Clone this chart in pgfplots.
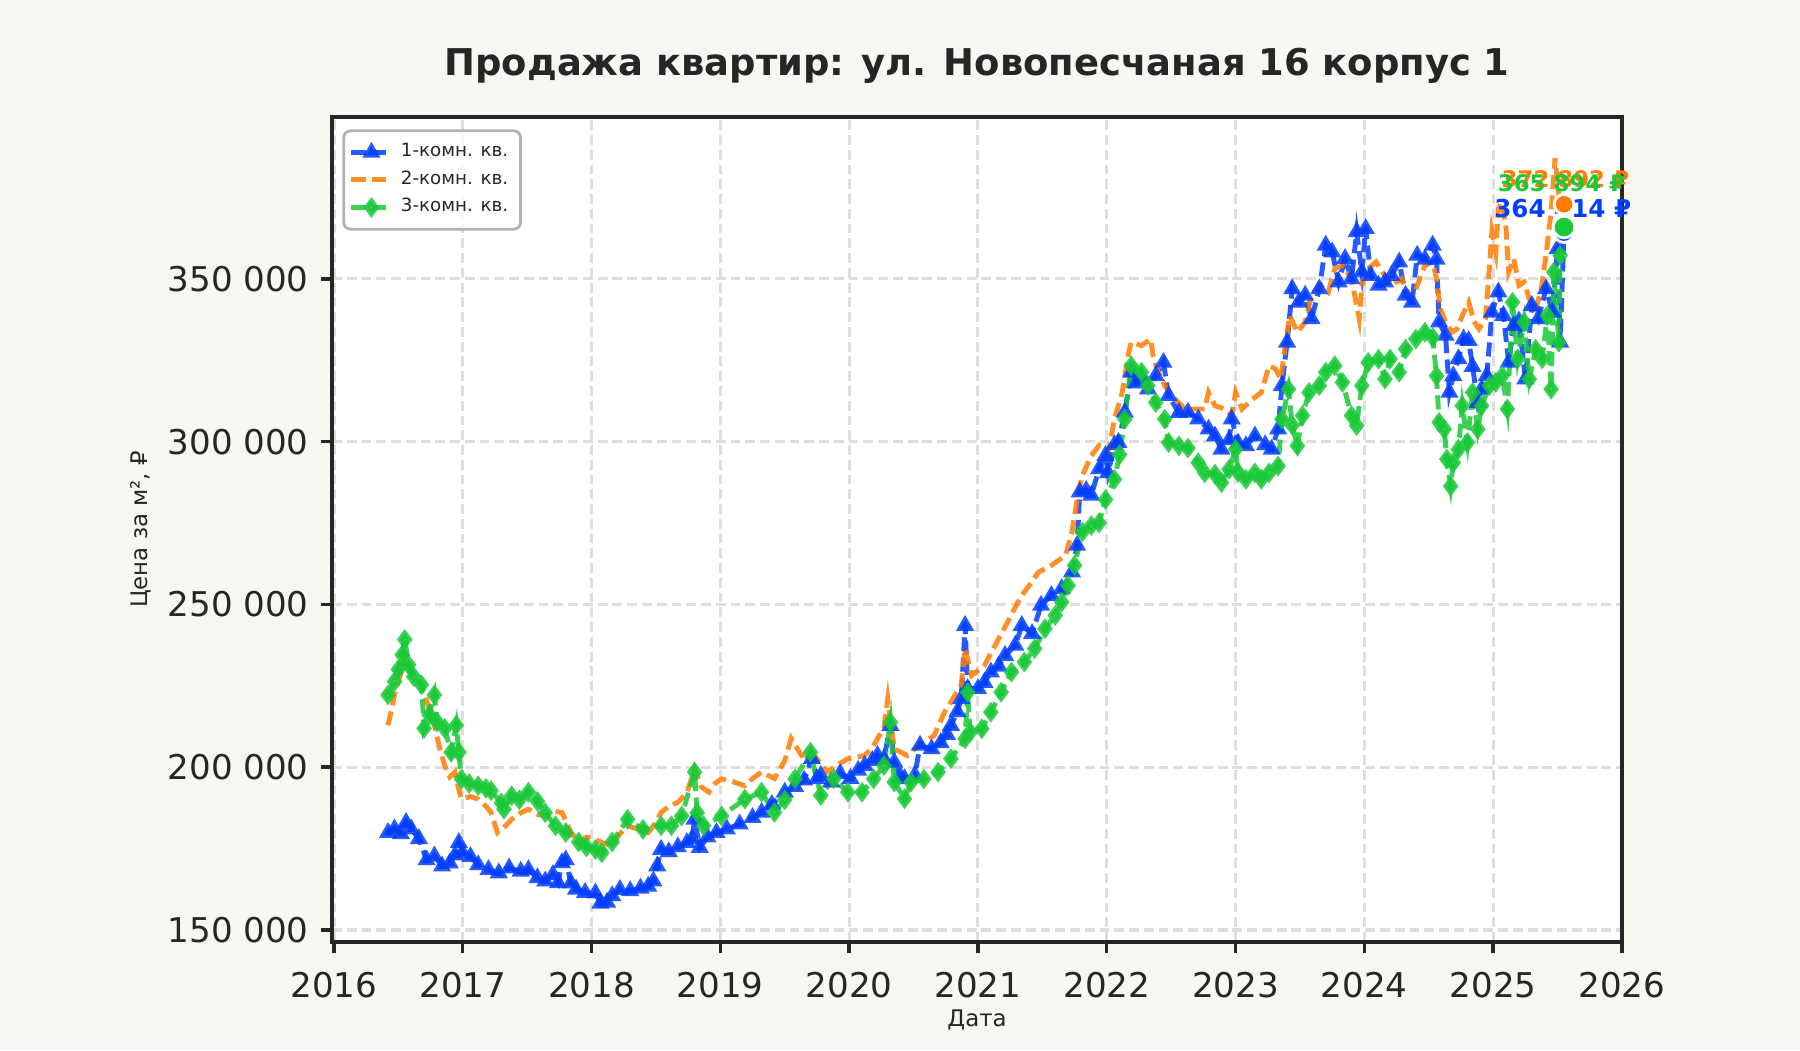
\documentclass[border=0pt]{standalone}
\usepackage{fontspec}
\setmainfont{DejaVu Sans}
\usepackage{pgfplots}
\pgfplotsset{compat=1.18}
\usepackage{pgfplotstable}

\definecolor{bg}{HTML}{F7F6F1}
\definecolor{ink}{HTML}{262626}
\definecolor{c1}{HTML}{023EFF}
\definecolor{c2}{HTML}{FF7C00}
\definecolor{c3}{HTML}{1AC938}

% 1-room
\pgfplotstableread{
x y
2016.42 179900
2016.47 181000
2016.52 179500
2016.56 183000
2016.60 181000
2016.66 178000
2016.72 171500
2016.78 172700
2016.84 169600
2016.90 170500
2016.94 173000
2016.97 176800
2017.00 173700
2017.06 172500
2017.12 170000
2017.20 168500
2017.28 167500
2017.36 169000
2017.45 168000
2017.51 168500
2017.58 166000
2017.64 165000
2017.70 167000
2017.74 164500
2017.77 170600
2017.80 171500
2017.84 164400
2017.88 162500
2017.95 161500
2018.03 161300
2018.07 158200
2018.12 158500
2018.16 160500
2018.22 162400
2018.30 162000
2018.38 162800
2018.44 163400
2018.48 165000
2018.51 169600
2018.54 174700
2018.60 174000
2018.67 175500
2018.74 176800
2018.78 178000
2018.80 184000
2018.84 175300
2018.90 178500
2018.97 179900
2019.05 181000
2019.15 182500
2019.25 184500
2019.32 186100
2019.40 188500
2019.50 192300
2019.58 194000
2019.65 196000
2019.71 202600
2019.75 196400
2019.78 197400
2019.86 195400
2019.93 198000
2020.01 196500
2020.07 199000
2020.12 200500
2020.18 202000
2020.22 203600
2020.27 202500
2020.32 212800
2020.35 201500
2020.40 197000
2020.43 196400
2020.51 197500
2020.55 206700
2020.64 205600
2020.71 207500
2020.76 210000
2020.79 212800
2020.84 217000
2020.87 221000
2020.90 243500
2020.92 224100
2021.00 224100
2021.05 226000
2021.10 229200
2021.16 231000
2021.21 234300
2021.29 237400
2021.34 243500
2021.42 241000
2021.49 249700
2021.57 252700
2021.65 254800
2021.73 259900
2021.77 268100
2021.79 284500
2021.84 285000
2021.88 283500
2021.94 291600
2021.99 295700
2022.01 290400
2022.06 299000
2022.09 299700
2022.14 309000
2022.19 321300
2022.23 318000
2022.27 320000
2022.32 316100
2022.38 320200
2022.44 324300
2022.48 314100
2022.56 308900
2022.63 309000
2022.71 306900
2022.79 303800
2022.84 301700
2022.89 297600
2022.95 300500
2022.97 306900
2023.02 299500
2023.08 298700
2023.15 301700
2023.23 299000
2023.28 297600
2023.33 303800
2023.36 317200
2023.40 330500
2023.44 346900
2023.49 342800
2023.54 344900
2023.59 337700
2023.65 346900
2023.70 360300
2023.75 358200
2023.80 349000
2023.85 356200
2023.90 350000
2023.94 364400
2023.98 352100
2024.01 365400
2024.05 351000
2024.11 348000
2024.16 349000
2024.21 351000
2024.27 355100
2024.32 344900
2024.37 342800
2024.41 357200
2024.47 356000
2024.53 360300
2024.56 356000
2024.58 336700
2024.63 332600
2024.66 315100
2024.69 320200
2024.73 325400
2024.77 331500
2024.81 331000
2024.84 323000
2024.88 312000
2024.91 316100
2024.95 320200
2024.99 339700
2025.04 345900
2025.08 338700
2025.12 324300
2025.16 335600
2025.20 337000
2025.25 319200
2025.30 341800
2025.35 337700
2025.41 346900
2025.46 339700
2025.50 359300
2025.52 330500
2025.55 364414
}\one

% 2-room
\pgfplotstableread{
x y
2016.42 212900
2016.45 218000
2016.47 222200
2016.52 229000
2016.55 234500
2016.58 231000
2016.60 227300
2016.68 225300
2016.74 218000
2016.78 212900
2016.82 206000
2016.86 200500
2016.90 197000
2016.94 198500
2016.97 193000
2016.99 190200
2017.06 191000
2017.12 190200
2017.18 188000
2017.22 186100
2017.27 179900
2017.32 181500
2017.38 184000
2017.45 186000
2017.51 187100
2017.58 185500
2017.64 185000
2017.70 186500
2017.77 186100
2017.84 180000
2017.90 176800
2017.96 178500
2018.03 177800
2018.10 176500
2018.16 176000
2018.22 179500
2018.28 182000
2018.36 181000
2018.44 179900
2018.50 183000
2018.54 186100
2018.60 188000
2018.67 189200
2018.74 192000
2018.80 199500
2018.85 194000
2018.91 192300
2018.96 195000
2019.01 196400
2019.10 195500
2019.19 194300
2019.25 196500
2019.32 198500
2019.42 196500
2019.50 202000
2019.55 208800
2019.63 203600
2019.71 204600
2019.78 201000
2019.83 198500
2019.90 200500
2019.99 202600
2020.05 203000
2020.12 203600
2020.18 206000
2020.22 208700
2020.27 212000
2020.30 221000
2020.35 205600
2020.45 203600
2020.52 206000
2020.58 207700
2020.66 209700
2020.74 216900
2020.82 222000
2020.87 225100
2020.90 236400
2020.95 228200
2021.05 231200
2021.10 235000
2021.16 239400
2021.23 244500
2021.31 250700
2021.36 253800
2021.42 257000
2021.47 259900
2021.57 262000
2021.68 265000
2021.73 272200
2021.78 284500
2021.81 289600
2021.88 295700
2021.94 298800
2022.01 296600
2022.06 306900
2022.12 315100
2022.17 327400
2022.19 330500
2022.27 329500
2022.34 331500
2022.36 326400
2022.39 322300
2022.45 317200
2022.53 313000
2022.61 310000
2022.69 310000
2022.76 310000
2022.79 315100
2022.84 311000
2022.92 310000
2022.97 307900
2023.00 315100
2023.05 310000
2023.13 313000
2023.20 315100
2023.26 323300
2023.31 322300
2023.35 319200
2023.39 330500
2023.42 338700
2023.48 333600
2023.54 336700
2023.59 344900
2023.65 348000
2023.72 345900
2023.77 353100
2023.83 354100
2023.90 350000
2023.96 337700
2023.98 348000
2024.03 353100
2024.09 355200
2024.14 352100
2024.21 348000
2024.29 350000
2024.32 347000
2024.37 343900
2024.42 349000
2024.47 354100
2024.53 355200
2024.56 350000
2024.59 340800
2024.63 336700
2024.68 333600
2024.72 334600
2024.76 338700
2024.81 342800
2024.85 337000
2024.89 334600
2024.94 337700
2024.97 353100
2024.99 364400
2025.02 358200
2025.04 371600
2025.07 373600
2025.10 365400
2025.12 352100
2025.16 356200
2025.20 348000
2025.24 349000
2025.28 343900
2025.33 340800
2025.37 346000
2025.41 357200
2025.45 370600
2025.48 387000
2025.51 375700
2025.55 372892
}\two

% 3-room
\pgfplotstableread{
x y
2016.42 222200
2016.47 226300
2016.50 230000
2016.53 234500
2016.55 239200
2016.58 231400
2016.62 227800
2016.68 225300
2016.70 211900
2016.74 216000
2016.78 222200
2016.80 213900
2016.86 211900
2016.91 204600
2016.95 212900
2016.97 204600
2016.99 196400
2017.05 195000
2017.12 194300
2017.18 193500
2017.22 192800
2017.30 189000
2017.32 187100
2017.38 191200
2017.44 190000
2017.51 192300
2017.58 189500
2017.64 186000
2017.72 182000
2017.80 179900
2017.90 177000
2017.96 175500
2018.03 174700
2018.08 173700
2018.16 177000
2018.28 184000
2018.40 180900
2018.54 182000
2018.62 182000
2018.70 185000
2018.80 198500
2018.82 186000
2018.87 182000
2019.01 185000
2019.19 190200
2019.32 192300
2019.42 186100
2019.50 190000
2019.58 196400
2019.70 204600
2019.78 191300
2019.88 196400
2019.99 192300
2020.10 192300
2020.19 196400
2020.27 200500
2020.32 213800
2020.35 195400
2020.43 190300
2020.48 195400
2020.58 196400
2020.69 198500
2020.79 202600
2020.90 208700
2020.92 223000
2020.94 210800
2021.03 211800
2021.10 216900
2021.18 223000
2021.26 229200
2021.36 232300
2021.44 236400
2021.52 242500
2021.60 246600
2021.65 250700
2021.70 255800
2021.75 262000
2021.81 272200
2021.88 274200
2021.94 275000
2021.99 282200
2022.06 288400
2022.10 296000
2022.14 306900
2022.19 323300
2022.27 321300
2022.32 317200
2022.38 312000
2022.45 306900
2022.48 299700
2022.56 298700
2022.63 298000
2022.71 293500
2022.76 290400
2022.84 290000
2022.89 287400
2022.95 291500
2023.00 297600
2023.02 290500
2023.08 288400
2023.15 290400
2023.20 288400
2023.26 290400
2023.33 292500
2023.36 306900
2023.41 316100
2023.44 305000
2023.48 298700
2023.52 308000
2023.57 315100
2023.65 317200
2023.70 321300
2023.77 323300
2023.83 318200
2023.90 308000
2023.94 304900
2023.98 317200
2024.03 324300
2024.11 325300
2024.16 319200
2024.20 325400
2024.27 321300
2024.32 328400
2024.40 331500
2024.47 333600
2024.53 332000
2024.56 320200
2024.58 305900
2024.62 303800
2024.64 294600
2024.67 286300
2024.69 293500
2024.73 297600
2024.76 311000
2024.80 299700
2024.84 315100
2024.88 303800
2024.91 311000
2024.97 317200
2025.02 318200
2025.07 320200
2025.11 310000
2025.15 342800
2025.19 325400
2025.24 336700
2025.28 319200
2025.33 328400
2025.38 325400
2025.42 338700
2025.45 316100
2025.47 352100
2025.51 330500
2025.52 357200
2025.55 365894
}\three

\begin{document}
\begin{tikzpicture}
\fill[bg] (0,0) rectangle (18cm,10.5cm);
\begin{axis}[
    at={(3.32cm,1.08cm)}, anchor=south west,
    scale only axis,
    width=12.9cm, height=8.25cm,
    xmin=2015.985, xmax=2026.0,
    ymin=146300, ymax=399700,
    clip=false,
    scaled y ticks=false, scaled x ticks=false,
    axis background/.style={fill=white},
    axis line style={ink, line width=1.2pt},
    xtick={2016,2017,...,2026},
    xticklabels={2016,2017,2018,2019,2020,2021,2022,2023,2024,2025,2026},
    ytick={150000,200000,250000,300000,350000},
    yticklabels={150 000,200 000,250 000,300 000,350 000},
    xtick pos=lower, ytick pos=left,
    tick align=outside,
    major tick length=0.11cm,
    tick style={ink, line width=1pt},
    tick label style={font=\fontsize{9.7}{11}\selectfont, text=ink},
    xticklabel style={yshift=-0.07cm},
    grid=major,
    grid style={black!13, line width=0.9pt, dash pattern=on 2.8pt off 1.4pt},
    title={\bfseries Продажа квартир: ул. Новопесчаная 16 корпус 1},
    title style={font=\fontsize{10.5}{12}\selectfont, text=ink, at={(axis description cs:0.5,1.062)}, anchor=center, yshift=-6pt},
    xlabel={Дата},
    xlabel style={font=\fontsize{6.5}{8}\selectfont, text=ink, at={(axis description cs:0.5,-0.094)}, anchor=center},
    ylabel={Цена за м², ₽},
    ylabel style={font=\fontsize{6.5}{8}\selectfont, text=ink, at={(axis description cs:-0.148,0.5)}, anchor=center},
    legend style={at={(axis description cs:0.008,0.985)}, anchor=north west,
        font=\fontsize{5.2}{6}\selectfont, text=ink, draw=black!30, line width=0.8pt,
        rounded corners=2pt, fill=white, fill opacity=0.8, text opacity=1,
        inner sep=1.5pt, row sep=-1.5pt},
    legend cell align=left,
    legend image code/.code={
        \draw[mark repeat=2, mark phase=2, #1] plot coordinates {(0cm,0cm) (0.2cm,0cm) (0.4cm,0cm)};
    },
]
\addplot[c1, opacity=0.85, line width=1.4pt, dash pattern=on 4pt off 1.8pt,
    mark=triangle*, mark size=1.6pt, mark options={solid}] table {\one};
\addplot[c2, opacity=0.85, line width=1.4pt, dash pattern=on 4pt off 1.8pt] table {\two};
\addplot[c3, opacity=0.85, line width=1.4pt, dash pattern=on 4pt off 1.8pt,
    mark=diamond*, mark size=1.8pt, mark options={solid}] table {\three};
\legend{1-комн. кв., 2-комн. кв., 3-комн. кв.}

\node[c1, font=\fontsize{7}{8}\selectfont\bfseries] at (axis cs:2025.54,371500) {364 414 ₽};
\node[c2, font=\fontsize{6.5}{8}\selectfont\bfseries] at (axis cs:2025.56,380700) {372 892 ₽};
\node[c3, font=\fontsize{6.5}{8}\selectfont\bfseries] at (axis cs:2025.53,379300) {365 894 ₽};

\addplot[forget plot, only marks, mark=*, mark size=3pt, mark options={fill=c1, draw=white, line width=0.8pt}] coordinates {(2025.55,364414)};
\addplot[forget plot, only marks, mark=*, mark size=2.8pt, mark options={fill=c2, draw=white, line width=0.8pt}] coordinates {(2025.55,372892)};
\addplot[forget plot, only marks, mark=*, mark size=3.1pt, mark options={fill=c3, draw=white, line width=0.8pt}] coordinates {(2025.55,365894)};
\end{axis}
\end{tikzpicture}
\end{document}
